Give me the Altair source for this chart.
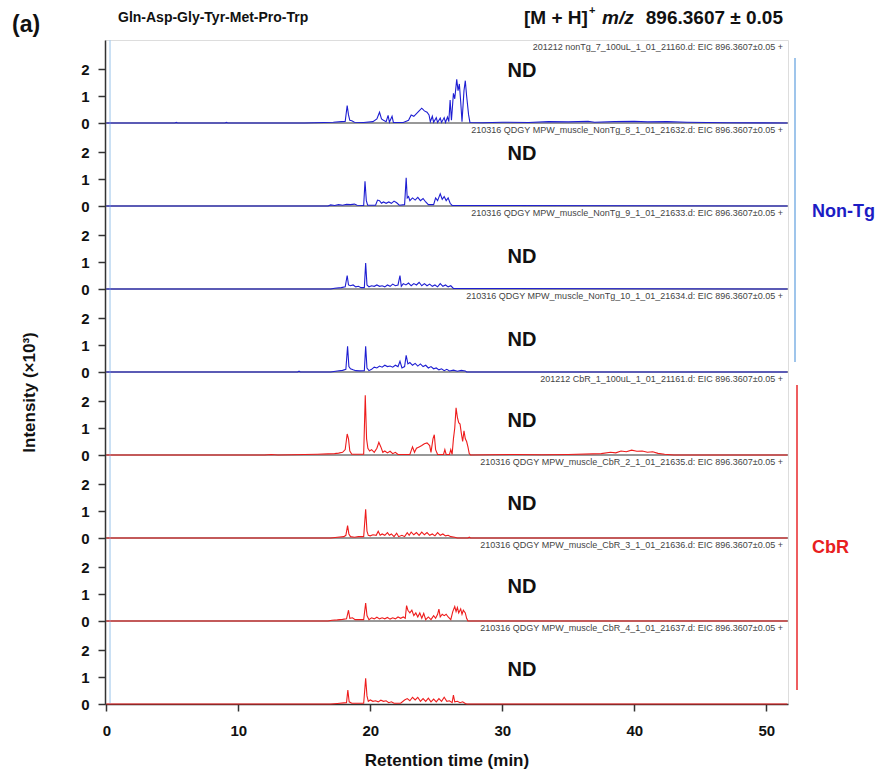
import altair as alt
import pandas as pd

# Stacked extracted-ion chromatograms, EIC m/z 896.3607 ± 0.05
STRIP = 3.08          # height of one trace strip, intensity units (x10^3)
N = 8
FONT = "Liberation Sans"
BLUE = "#1e1ed2"
RED = "#ee1c1c"

# (retention time [min], intensity [x10^3]) for each run
nontg_7 = [(0, 0), (5.2, 0), (5.3, 0.02), (5.4, 0), (9, 0), (9.1, 0.02), (9.2, 0), (15, 0), (16.5, 0.02),
           (17.2, 0.03), (17.8, 0.05), (18.1, 0.06), (18.25, 0.65), (18.35, 0.3), (18.45, 0.1), (18.6, 0.08),
           (18.8, 0.03), (19.5, 0.02), (20.2, 0.05), (20.5, 0.15), (20.7, 0.4), (20.85, 0.15), (21.0, 0.1),
           (21.2, 0.05), (21.35, 0.28), (21.45, 0.03), (21.65, 0.25), (21.75, 0.02), (22.5, 0.02), (22.9, 0.1),
           (23.1, 0.3), (23.3, 0.25), (23.5, 0.35), (23.7, 0.45), (23.9, 0.55), (24.1, 0.45), (24.3, 0.4),
           (24.45, 0.3), (24.55, 0.05), (24.7, 0.25), (24.8, 0.03), (25.0, 0.2), (25.1, 0.02), (25.3, 0.18),
           (25.4, 0.02), (25.6, 0.2), (25.7, 0.02), (25.85, 0.22), (25.95, 0.05), (26.05, 0.85), (26.15, 0.1),
           (26.3, 1.1), (26.4, 0.9), (26.55, 1.62), (26.65, 1.2), (26.75, 1.45), (26.85, 0.8), (26.95, 0.05),
           (27.1, 1.2), (27.2, 1.57), (27.3, 1.0), (27.45, 0.3), (27.55, 0.02), (28.5, 0.01), (30, 0.03),
           (32, 0.02), (33.5, 0.05), (35, 0.04), (36.5, 0.06), (37, 0.03), (38.5, 0.05), (40, 0.06),
           (41, 0.04), (42.5, 0.05), (44, 0.03), (45.5, 0.02), (47, 0.01), (51.6, 0)]

nontg_8 = [(0, 0), (16.8, 0), (17.0, 0.04), (17.3, 0.02), (17.6, 0.05), (17.9, 0.03), (18.2, 0.06),
           (18.5, 0.05), (18.8, 0.07), (19.0, 0.03), (19.5, 0.02), (19.6, 0.92), (19.7, 0.2), (19.8, 0.03),
           (20.4, 0.03), (20.55, 0.22), (20.7, 0.2), (20.85, 0.1), (21.0, 0.15), (21.2, 0.1), (21.4, 0.15),
           (21.6, 0.1), (21.8, 0.18), (22.0, 0.12), (22.2, 0.03), (22.6, 0.05), (22.72, 1.05), (22.8, 0.3),
           (22.9, 0.35), (23.0, 0.2), (23.2, 0.3), (23.4, 0.22), (23.6, 0.32), (23.8, 0.2), (24.0, 0.28),
           (24.2, 0.15), (24.4, 0.05), (24.8, 0.05), (24.95, 0.3), (25.1, 0.2), (25.3, 0.45), (25.45, 0.25),
           (25.6, 0.35), (25.75, 0.2), (25.9, 0.3), (26.05, 0.1), (26.2, 0.02), (51.6, 0)]

nontg_9 = [(0, 0), (17.0, 0), (17.3, 0.03), (17.8, 0.05), (18.1, 0.08), (18.25, 0.5), (18.35, 0.15),
           (18.5, 0.12), (18.7, 0.15), (18.9, 0.08), (19.1, 0.1), (19.3, 0.05), (19.55, 0.05), (19.65, 0.96),
           (19.75, 0.15), (19.9, 0.08), (20.1, 0.12), (20.3, 0.1), (20.5, 0.15), (20.7, 0.1), (20.9, 0.12),
           (21.1, 0.08), (21.3, 0.15), (21.5, 0.1), (21.7, 0.18), (21.9, 0.12), (22.1, 0.15), (22.25, 0.5),
           (22.35, 0.1), (22.5, 0.2), (22.7, 0.15), (22.9, 0.22), (23.1, 0.12), (23.3, 0.2), (23.5, 0.15),
           (23.7, 0.25), (23.9, 0.12), (24.1, 0.2), (24.3, 0.12), (24.5, 0.18), (24.7, 0.1), (24.9, 0.15),
           (25.1, 0.08), (25.3, 0.2), (25.5, 0.1), (25.7, 0.15), (25.9, 0.08), (26.1, 0.12), (26.3, 0.02),
           (51.6, 0)]

nontg_10 = [(0, 0), (14.5, 0), (14.6, 0.03), (14.7, 0), (17.0, 0), (17.5, 0.04), (17.9, 0.06), (18.15, 0.1),
            (18.28, 0.95), (18.38, 0.2), (18.5, 0.12), (18.7, 0.08), (18.9, 0.05), (19.2, 0.04), (19.55, 0.05),
            (19.65, 0.95), (19.75, 0.15), (19.9, 0.05), (20.1, 0.1), (20.3, 0.18), (20.5, 0.15), (20.7, 0.22),
            (20.9, 0.18), (21.1, 0.25), (21.3, 0.2), (21.5, 0.22), (21.7, 0.18), (21.9, 0.25), (22.1, 0.2),
            (22.25, 0.4), (22.4, 0.15), (22.6, 0.2), (22.72, 0.62), (22.85, 0.3), (23.0, 0.35), (23.2, 0.25),
            (23.4, 0.32), (23.6, 0.22), (23.8, 0.3), (24.0, 0.2), (24.2, 0.25), (24.4, 0.15), (24.6, 0.2),
            (24.8, 0.12), (25.0, 0.15), (25.2, 0.08), (25.4, 0.12), (25.6, 0.05), (25.8, 0.1), (26.0, 0.04),
            (26.3, 0.07), (26.6, 0.03), (26.9, 0.06), (27.2, 0.04), (27.3, 0.0), (51.6, 0)]

cbr_1 = [(0, 0), (12, 0), (12.5, 0.02), (13, 0), (15, 0.02), (16, 0.03), (16.8, 0.04), (17.3, 0.05),
         (17.6, 0.07), (17.9, 0.1), (18.1, 0.2), (18.25, 0.78), (18.35, 0.6), (18.45, 0.15), (18.6, 0.03),
         (19.5, 0.03), (19.62, 2.22), (19.72, 0.6), (19.82, 0.25), (19.95, 0.15), (20.1, 0.2), (20.3, 0.1),
         (20.5, 0.25), (20.65, 0.47), (20.8, 0.3), (20.95, 0.1), (21.1, 0.15), (21.3, 0.08), (21.5, 0.14),
         (21.7, 0.05), (21.9, 0.1), (22.1, 0.02), (23.0, 0.02), (23.2, 0.3), (23.35, 0.1), (23.5, 0.25),
         (23.7, 0.3), (23.9, 0.35), (24.1, 0.42), (24.3, 0.45), (24.5, 0.35), (24.6, 0.1), (24.75, 0.6),
         (24.85, 0.75), (24.95, 0.2), (25.1, 0.02), (25.55, 0.02), (25.65, 0.2), (25.75, 0.02), (26.0, 0.02),
         (26.1, 0.2), (26.2, 0.02), (26.3, 0.6), (26.4, 1.0), (26.5, 1.75), (26.6, 1.4), (26.7, 1.2),
         (26.8, 1.15), (26.9, 0.8), (27.0, 0.5), (27.1, 0.9), (27.2, 0.6), (27.3, 0.5), (27.4, 0.3),
         (27.5, 0.05), (27.6, 0), (29, 0.01), (31, 0.02), (33, 0.01), (35, 0.02), (37.5, 0.05), (38.2, 0.1),
         (38.6, 0.08), (39.0, 0.15), (39.4, 0.12), (39.8, 0.18), (40.2, 0.14), (40.6, 0.15), (41.0, 0.1),
         (41.4, 0.12), (41.8, 0.06), (42.3, 0.03), (43, 0), (51.6, 0)]

cbr_2 = [(0, 0), (17, 0), (17.5, 0.03), (18.0, 0.05), (18.15, 0.1), (18.28, 0.46), (18.38, 0.15), (18.5, 0.05),
         (18.8, 0.03), (19.1, 0.05), (19.5, 0.05), (19.65, 1.07), (19.75, 0.25), (19.85, 0.1), (20.0, 0.08),
         (20.2, 0.12), (20.45, 0.1), (20.6, 0.25), (20.75, 0.1), (20.9, 0.15), (21.1, 0.1), (21.3, 0.2),
         (21.45, 0.1), (21.6, 0.15), (21.8, 0.05), (22.0, 0.18), (22.15, 0.05), (22.4, 0.1), (22.6, 0.05),
         (22.8, 0.2), (22.95, 0.1), (23.1, 0.22), (23.3, 0.12), (23.5, 0.2), (23.7, 0.1), (23.9, 0.22),
         (24.1, 0.12), (24.3, 0.2), (24.5, 0.1), (24.7, 0.15), (24.9, 0.08), (25.1, 0.2), (25.3, 0.1),
         (25.5, 0.15), (25.7, 0.08), (25.9, 0.1), (26.1, 0.05), (26.4, 0.03), (26.6, 0), (27.4, 0),
         (27.5, 0.03), (27.6, 0), (51.6, 0)]

cbr_3 = [(0, 0), (16.8, 0), (17.1, 0.03), (17.5, 0.04), (17.9, 0.06), (18.2, 0.08), (18.35, 0.4), (18.45, 0.1),
         (18.65, 0.12), (18.85, 0.05), (19.5, 0.05), (19.65, 0.67), (19.75, 0.2), (19.9, 0.05), (20.1, 0.12),
         (20.3, 0.08), (20.5, 0.14), (20.7, 0.08), (20.9, 0.12), (21.1, 0.08), (21.3, 0.13), (21.5, 0.07),
         (21.7, 0.12), (21.9, 0.08), (22.1, 0.15), (22.3, 0.1), (22.5, 0.15), (22.65, 0.1), (22.75, 0.57),
         (22.85, 0.4), (23.0, 0.3), (23.15, 0.4), (23.3, 0.2), (23.45, 0.3), (23.6, 0.15), (23.75, 0.3),
         (23.9, 0.1), (24.05, 0.28), (24.2, 0.05), (24.4, 0.15), (24.6, 0.05), (24.8, 0.2), (24.95, 0.1),
         (25.1, 0.25), (25.2, 0.44), (25.3, 0.15), (25.45, 0.25), (25.6, 0.2), (25.75, 0.25), (25.9, 0.15),
         (26.1, 0.05), (26.25, 0.35), (26.4, 0.54), (26.5, 0.35), (26.6, 0.5), (26.7, 0.3), (26.85, 0.45),
         (26.95, 0.25), (27.05, 0.4), (27.2, 0.3), (27.3, 0.1), (27.4, 0), (51.6, 0)]

cbr_4 = [(0, 0), (17.0, 0), (17.5, 0.02), (18.0, 0.04), (18.2, 0.05), (18.3, 0.52), (18.4, 0.08), (18.6, 0.03),
         (19.5, 0.03), (19.65, 0.95), (19.75, 0.3), (19.85, 0.1), (20.0, 0.15), (20.2, 0.1), (20.4, 0.12),
         (20.6, 0.08), (20.8, 0.14), (21.0, 0.1), (21.2, 0.12), (21.4, 0.05), (21.6, 0.08), (21.8, 0.03),
         (22.3, 0.03), (22.6, 0.15), (22.8, 0.2), (23.0, 0.12), (23.2, 0.25), (23.4, 0.15), (23.6, 0.25),
         (23.8, 0.1), (24.0, 0.2), (24.2, 0.1), (24.4, 0.22), (24.6, 0.08), (24.8, 0.18), (25.0, 0.08),
         (25.2, 0.2), (25.4, 0.1), (25.6, 0.25), (25.8, 0.1), (26.0, 0.12), (26.2, 0.05), (26.3, 0.33),
         (26.4, 0.08), (26.6, 0.1), (26.8, 0.05), (27.0, 0.08), (27.2, 0.02), (27.3, 0), (51.6, 0)]

run_names = [
    "201212 nonTg_7_100uL_1_01_21160.d",
    "210316 QDGY MPW_muscle_NonTg_8_1_01_21632.d",
    "210316 QDGY MPW_muscle_NonTg_9_1_01_21633.d",
    "210316 QDGY MPW_muscle_NonTg_10_1_01_21634.d",
    "201212 CbR_1_100uL_1_01_21161.d",
    "210316 QDGY MPW_muscle_CbR_2_1_01_21635.d",
    "210316 QDGY MPW_muscle_CbR_3_1_01_21636.d",
    "210316 QDGY MPW_muscle_CbR_4_1_01_21637.d",
]
run_groups = ["Non-Tg"] * 4 + ["CbR"] * 4
run_traces = [nontg_7, nontg_8, nontg_9, nontg_10, cbr_1, cbr_2, cbr_3, cbr_4]
nd_level = [1.93, 1.93, 1.2, 1.2, 1.25, 1.25, 1.25, 1.25]

rows = []
for slot, (grp, pts) in enumerate(zip(run_groups, run_traces)):
    for t, v in pts:
        rows.append({"slot": slot, "group": grp, "time": t, "intensity": v})
traces = pd.DataFrame(rows)

runs = pd.DataFrame({
    "slot": list(range(N)),
    "label": [f"{n}: EIC 896.3607±0.05 +" for n in run_names],
    "nd": nd_level,
})

x_scale = alt.Scale(domain=[-0.1, 51.65], nice=False, zero=False)
y_scale = alt.Scale(domain=[0, N * STRIP], nice=False, zero=False)

X_AX = alt.Axis(values=[0, 10, 20, 30, 40, 50], title="Retention time (min)", grid=False,
                labelFlush=False, tickSize=7, tickColor="#333", domainColor="#333", domainWidth=1.5,
                tickWidth=1.5, labelPadding=12, labelFontSize=15, labelFontWeight="bold", labelFont=FONT,
                titleFont=FONT, titleFontSize=17, titleFontWeight="bold", titlePadding=14, titleColor="#111",
                labelColor="#111")
Y_AX = alt.Axis(values=[k * STRIP + j for k in range(N) for j in (0, 1, 2)],
                labelExpr=f"round(datum.value - floor((datum.value + 0.01) / {STRIP}) * {STRIP})",
                title="Intensity (×10³)", grid=False, labelFlush=False, labelOverlap=False,
                tickSize=7, tickColor="#333", domainColor="#333", domainWidth=1.5, tickWidth=1.5,
                labelPadding=9, labelFontSize=15, labelFontWeight="bold", labelFont=FONT, labelColor="#111",
                titleFont=FONT, titleFontSize=17, titleFontWeight="bold", titleColor="#111",
                titleX=-67, titleY=352, titleAngle=-90)

X = lambda f: alt.X(f, scale=x_scale, axis=X_AX)
Y = lambda f: alt.Y(f, scale=y_scale, axis=Y_AX)

# strip separators at each trace baseline
borders = alt.Chart(pd.DataFrame({"k": list(range(1, N))})).transform_calculate(
    yb=f"datum.k * {STRIP}"
).mark_rule(color="#333", strokeWidth=1.2).encode(y=Y("yb:Q"))

cursor = alt.Chart(pd.DataFrame({"time": [0.28]})).mark_rule(
    color="#a9cdee", strokeWidth=1.2).encode(x=X("time:Q"))

lines = alt.Chart(traces).transform_calculate(
    yplot=f"datum.intensity + ({N - 1} - datum.slot) * {STRIP}"
).mark_line(strokeWidth=1.1, interpolate="linear").encode(
    x=X("time:Q"),
    y=Y("yplot:Q"),
    detail="slot:N",
    color=alt.Color("group:N", scale=alt.Scale(domain=["Non-Tg", "CbR"], range=[BLUE, RED]), legend=None),
)

run_labels = alt.Chart(runs).transform_calculate(
    ylab=f"({N} - datum.slot) * {STRIP} - 0.27"
).mark_text(align="right", baseline="middle", fontSize=9, font=FONT, color="#444").encode(
    x=alt.value(678), y=Y("ylab:Q"), text="label:N")

nd_labels = alt.Chart(runs).transform_calculate(
    ynd=f"({N - 1} - datum.slot) * {STRIP} + datum.nd", txt="'ND'"
).mark_text(align="center", baseline="middle", fontSize=20, fontWeight="bold", font=FONT,
            color="#111").encode(x=alt.value(417), y=Y("ynd:Q"), text="txt:N")


def note(text, x, y, size, color="#111", weight="bold", style="normal", align="left"):
    return alt.Chart(pd.DataFrame({"t": [text]})).mark_text(
        align=align, baseline="middle", fontSize=size, fontWeight=weight, fontStyle=style,
        color=color, font=FONT).encode(x=alt.value(x), y=alt.value(y), text="t:N")


def bracket(x, y0, y1, color):
    return alt.Chart(pd.DataFrame({"g": [0]})).mark_rule(color=color, strokeWidth=1.5).encode(
        x=alt.value(x), y=alt.value(y0), y2=alt.value(y1))


header = [
    note("(a)", -93, -15, 23),
    note("Gln-Asp-Gly-Tyr-Met-Pro-Trp", 13, -22, 14),
    note("[M + H]", 419, -22, 19),
    note("+", 484, -29, 11),
    note("m/z", 497, -22, 19, style="italic"),
    note("896.3607 ± 0.05", 678, -22, 19, align="right"),
]
groups = [
    bracket(690, 18, 322, "#7fb2e5"),
    bracket(692, 345, 650, "#e8282b"),
    note("Non-Tg", 707, 172, 18, color="#1c1cc4"),
    note("CbR", 707, 508, 18, color="#e82020"),
]

chart = alt.layer(borders, cursor, lines, run_labels, nd_labels, *header, *groups).properties(
    width=683, height=664,
    autosize=alt.AutoSizeParams(type="none"),
    padding={"left": 105, "top": 40, "right": 89, "bottom": 77},
).configure_view(stroke="#333", strokeWidth=1.2).configure(background="white")

chart.save("out.html", embed_options={"renderer": "svg", "actions": False})
